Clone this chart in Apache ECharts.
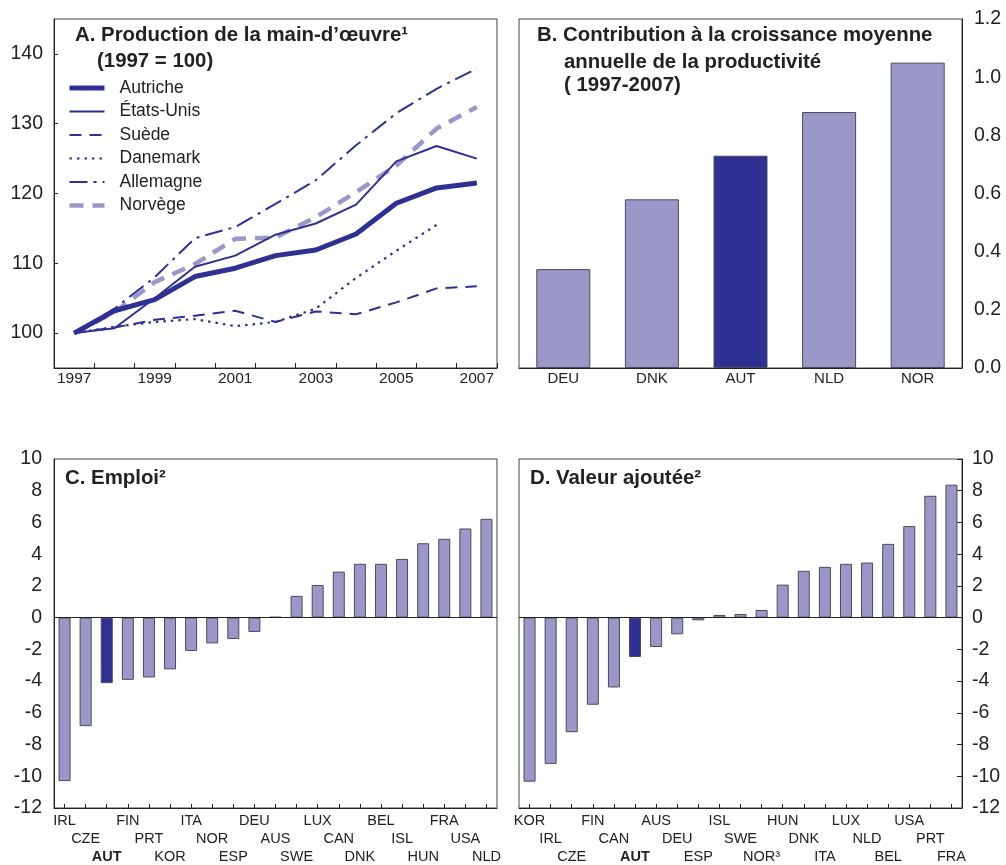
<!DOCTYPE html>
<html>
<head>
<meta charset="utf-8">
<script src="https://cdn.jsdelivr.net/npm/echarts@6/dist/echarts.min.js"></script>
<style>
  html, body { margin: 0; padding: 0; background: #fff; }
  #chart { width: 1006px; height: 865px; }
</style>
</head>
<body>
<div id="chart"></div>
<script>
// Panel A: labour productivity index, 1997 = 100
const years = ['1997', '1998', '1999', '2000', '2001', '2002', '2003', '2004', '2005', '2006', '2007'];
const autriche  = [100, 103.2, 104.8, 108.1, 109.3, 111.1, 111.9, 114.2, 118.6, 120.8, 121.5];
const etatsUnis = [100, 100.7, 105.0, 109.5, 111.1, 114.1, 115.7, 118.4, 124.6, 126.8, 125.0];
const suede     = [100, 100.8, 101.9, 102.5, 103.2, 101.6, 103.1, 102.7, 104.4, 106.4, 106.7];
const danemark  = [100, 100.9, 101.6, 102.0, 101.0, 101.6, 103.5, 107.9, 111.8, 115.5, null];
const allemagne = [100, 103.5, 108.0, 113.6, 115.2, 118.5, 121.9, 126.9, 131.5, 135.0, 137.9];
const norvege   = [100, 103.0, 107.3, 109.9, 113.5, 113.7, 116.6, 120.2, 124.0, 129.3, 132.4];
const indexTicks = [100, 110, 120, 130, 140];

// Panel B: contribution to average annual productivity growth, 1997-2007
const contribCountries = ['DEU', 'DNK', 'AUT', 'NLD', 'NOR'];
const contribValues = [0.34, 0.58, 0.73, 0.88, 1.05];

// Panel C: employment
const emploiCountries = ['IRL', 'CZE', 'AUT', 'FIN', 'PRT', 'KOR', 'ITA', 'NOR', 'ESP', 'DEU', 'AUS',
  'SWE', 'LUX', 'CAN', 'DNK', 'BEL', 'ISL', 'HUN', 'FRA', 'USA', 'NLD'];
const emploiValues = [-10.3, -6.84, -4.13, -3.92, -3.77, -3.26, -2.1, -1.62, -1.35, -0.9, 0.05,
  1.37, 2.06, 2.9, 3.39, 3.39, 3.7, 4.69, 4.97, 5.62, 6.23];

// Panel D: value added
const vaCountries = ['KOR', 'IRL', 'CZE', 'FIN', 'CAN', 'AUT', 'AUS', 'DEU', 'ESP', 'ISL', 'SWE',
  'NOR³', 'HUN', 'DNK', 'ITA', 'LUX', 'NLD', 'BEL', 'USA', 'PRT', 'FRA'];
const vaValues = [-10.34, -9.22, -7.22, -5.49, -4.4, -2.48, -1.85, -1.05, -0.17, 0.17, 0.23,
  0.48, 2.08, 2.95, 3.2, 3.39, 3.47, 4.65, 5.77, 7.68, 8.38];

const DARK = '#2e3192';
const LIGHT = '#9c97c9';
const INK = '#222';
const FONT = '"Liberation Sans", Arial, Helvetica, sans-serif';

// Line styles of panel A, shared by the series and the legend entries
const lineDefs = [
  { name: 'Autriche',   data: autriche,  color: DARK,  width: 5,   type: 'solid',        z: 6 },
  { name: 'États-Unis', data: etatsUnis, color: DARK,  width: 2,   type: 'solid',        z: 5 },
  { name: 'Suède',      data: suede,     color: DARK,  width: 2,   type: [12, 8],        z: 4 },
  { name: 'Danemark',   data: danemark,  color: DARK,  width: 2.2, type: [2.5, 5],       z: 4 },
  { name: 'Allemagne',  data: allemagne, color: DARK,  width: 2,   type: [18, 6, 3, 6],  z: 4 },
  { name: 'Norvège',    data: norvege,   color: LIGHT, width: 4.5, type: [14, 9],        z: 3 }
];

function highlightAut(names, values) {
  return values.map((v, i) => names[i] === 'AUT' ? { value: v, itemStyle: { color: DARK } } : v);
}

// Category names stacked over three rows, AUT in bold
function staggered(value, index) {
  const pre = ['', '\n', '\n\n'][index % 3];
  return pre + (value === 'AUT' ? '{b|AUT}' : value);
}

const gridBase = { show: true, borderColor: '#444', borderWidth: 1, containLabel: false, outerBoundsMode: 'none' };
const grids = [
  Object.assign({ left: 54,  top: 19,  width: 443, height: 349 }, gridBase),
  Object.assign({ left: 519, top: 19,  width: 443, height: 349 }, gridBase),
  Object.assign({ left: 54,  top: 459, width: 443, height: 349 }, gridBase),
  Object.assign({ left: 519, top: 459, width: 443, height: 349 }, gridBase)
];

const axisLine = { show: true, onZero: false, lineStyle: { color: INK, width: 1 } };

const barStyle = { color: LIGHT, borderColor: '#4a4a5a', borderWidth: 1 };

const zeroLine = {
  silent: true, symbol: 'none', label: { show: false },
  lineStyle: { color: INK, type: 'solid', width: 1 },
  data: [{ yAxis: 0 }]
};

const staggerLabel = {
  interval: 0, formatter: staggered, fontSize: 14.5, lineHeight: 18, margin: 4, color: INK,
  rich: { b: { fontWeight: 'bold', fontSize: 14.5, lineHeight: 18, color: INK } }
};

const option = {
  animation: false,
  backgroundColor: '#fff',
  textStyle: { fontFamily: FONT, color: INK },
  title: [
    { text: 'A. Production de la main-d’œuvre¹', left: 75, top: 25 },
    { text: '(1997 = 100)', left: 97, top: 51 },
    { text: 'B. Contribution à la croissance moyenne', left: 537, top: 25 },
    { text: 'annuelle de la productivité', left: 564, top: 52 },
    { text: '( 1997-2007)', left: 564, top: 75 },
    { text: 'C. Emploi²', left: 65, top: 468 },
    { text: 'D. Valeur ajoutée²', left: 530, top: 468 }
  ].map(t => Object.assign(t, {
    padding: 0,
    textStyle: { fontFamily: FONT, fontSize: 20.4, fontWeight: 'bold', color: INK }
  })),
  legend: {
    orient: 'vertical', left: 67, top: 79,
    itemWidth: 35, itemHeight: 18, itemGap: 5.5,
    padding: 0,
    textStyle: { fontFamily: FONT, fontSize: 17.5, color: INK, padding: [0, 0, 0, 10] },
    itemStyle: { opacity: 0 },
    data: lineDefs.map(d => ({
      name: d.name,
      lineStyle: { color: d.color, width: d.width, type: d.type, cap: 'butt' }
    }))
  },
  grid: grids,
  xAxis: [
    {
      gridIndex: 0, type: 'category', data: years, boundaryGap: true,
      axisLine: axisLine,
      axisTick: { show: true, inside: true, length: 5, interval: 0, lineStyle: { color: INK } },
      axisLabel: { interval: 1, fontSize: 15.5, color: INK, margin: 3 }
    },
    {
      gridIndex: 1, type: 'category', data: contribCountries,
      axisLine: axisLine, axisTick: { show: false },
      axisLabel: { fontSize: 15, color: INK, margin: 3 }
    },
    {
      gridIndex: 2, type: 'category', data: emploiCountries,
      axisLine: axisLine,
      axisTick: { show: true, inside: true, alignWithLabel: true, length: 4, interval: 0, lineStyle: { color: INK } },
      axisLabel: staggerLabel
    },
    {
      gridIndex: 3, type: 'category', data: vaCountries,
      axisLine: axisLine,
      axisTick: { show: true, inside: true, alignWithLabel: true, length: 4, interval: 0, lineStyle: { color: INK } },
      axisLabel: staggerLabel
    }
  ],
  yAxis: [
    {
      gridIndex: 0, type: 'value', min: 95, max: 145, interval: 5,
      axisLine: axisLine,
      axisTick: { show: true, inside: true, length: 4, customValues: indexTicks, lineStyle: { color: INK } },
      axisLabel: { customValues: indexTicks, fontSize: 19.5, color: INK, margin: 11 },
      splitLine: { show: false }
    },
    {
      gridIndex: 1, type: 'value', position: 'right', min: 0, max: 1.2, interval: 0.2,
      axisLine: axisLine, axisTick: { show: false },
      axisLabel: { formatter: v => v.toFixed(1), fontSize: 19.5, color: INK, margin: 12 },
      splitLine: { show: false }
    },
    {
      gridIndex: 2, type: 'value', min: -12, max: 10, interval: 2,
      axisLine: axisLine, axisTick: { show: false },
      axisLabel: { fontSize: 19.5, color: INK, margin: 12 },
      splitLine: { show: false }
    },
    {
      gridIndex: 3, type: 'value', position: 'right', min: -12, max: 10, interval: 2,
      axisLine: axisLine,
      axisTick: { show: true, inside: true, length: 5, lineStyle: { color: INK } },
      axisLabel: { fontSize: 19.5, color: INK, margin: 10 },
      splitLine: { show: false }
    }
  ],
  series: [
    ...lineDefs.map(d => ({
      name: d.name, type: 'line', xAxisIndex: 0, yAxisIndex: 0,
      data: d.data, symbol: 'none', z: d.z, connectNulls: false,
      lineStyle: { color: d.color, width: d.width, type: d.type, cap: 'butt', join: 'round' },
      itemStyle: { color: d.color }
    })),
    {
      name: 'Contribution', type: 'bar', xAxisIndex: 1, yAxisIndex: 1,
      data: highlightAut(contribCountries, contribValues), barWidth: 54,
      itemStyle: barStyle
    },
    {
      name: 'Emploi', type: 'bar', xAxisIndex: 2, yAxisIndex: 2,
      data: highlightAut(emploiCountries, emploiValues), barWidth: 12,
      itemStyle: barStyle, markLine: zeroLine
    },
    {
      name: 'Valeur ajoutée', type: 'bar', xAxisIndex: 3, yAxisIndex: 3,
      data: highlightAut(vaCountries, vaValues), barWidth: 12,
      itemStyle: barStyle, markLine: zeroLine
    }
  ]
};

const chart = echarts.init(document.getElementById('chart'), null, { renderer: 'canvas' });
chart.setOption(option);
</script>
</body>
</html>
